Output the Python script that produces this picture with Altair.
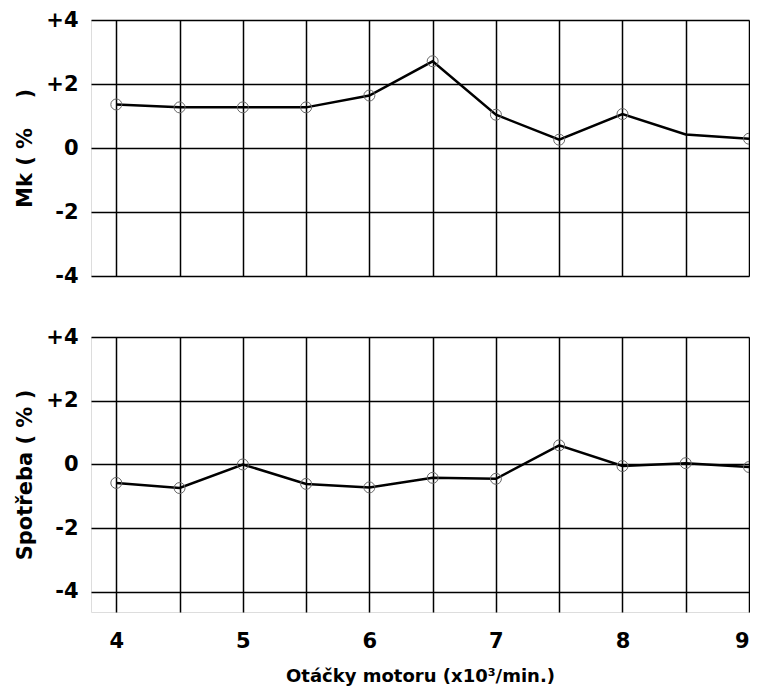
import altair as alt
import pandas as pd

# Data
rpm = [4, 4.5, 5, 5.5, 6, 6.5, 7, 7.5, 8, 8.5, 9]
mk = [1.36, 1.27, 1.27, 1.27, 1.64, 2.71, 1.04, 0.26, 1.06, 0.42, 0.29]
mk_marked = [True, True, True, True, True, True, True, True, True, False, True]
spotreba = [-0.58, -0.74, 0.0, -0.61, -0.72, -0.42, -0.45, 0.60, -0.05, 0.04, -0.08]

x_grid = [4, 4.5, 5, 5.5, 6, 6.5, 7, 7.5, 8, 8.5, 9]
y_ticks = [-4, -2, 0, 2, 4]

df = pd.DataFrame({"rpm": rpm, "mk": mk, "mk_marked": mk_marked, "spotreba": spotreba})

FONT = "DejaVu Sans"
W = 658

x_top = alt.X(
    "rpm:Q",
    scale=alt.Scale(domain=[3.8, 9], nice=False, zero=False),
    axis=alt.Axis(values=x_grid, labels=False, ticks=False, domain=False, title=None,
                  grid=True, gridColor="black", gridWidth=1.5, gridOpacity=1),
)
x_bot = alt.X(
    "rpm:Q",
    scale=alt.Scale(domain=[3.8, 9], nice=False, zero=False),
    axis=alt.Axis(values=x_grid, ticks=False, domain=False,
                  labelExpr="datum.value % 1 == 0 ? '' + datum.value : ''",
                  labelFont=FONT, labelFontWeight="bold", labelFontSize=21, labelColor="black",
                  labelPadding=18, labelFlush=True, labelOverlap=False,
                  title="Otáčky motoru (x10³/min.)", titleFont=FONT, titleFontWeight="bold",
                  titleFontSize=18, titleColor="black", titlePadding=16,
                  grid=True, gridColor="black", gridWidth=1.5, gridOpacity=1),
)


def y_axis(title):
    return alt.Axis(values=y_ticks, ticks=False, domain=False,
                    labelExpr="datum.value > 0 ? '+' + datum.value : '' + datum.value",
                    labelFont=FONT, labelFontWeight="bold", labelFontSize=21, labelColor="black",
                    labelPadding=13, labelOverlap=False,
                    title=title, titleFont=FONT, titleFontWeight="bold", titleFontSize=21,
                    titleColor="black", titlePadding=10,
                    grid=True, gridColor="black", gridWidth=1.5, gridOpacity=1)


base = alt.Chart(df)

top_line = base.mark_line(color="black", strokeWidth=2.5, clip=True).encode(
    x=x_top,
    y=alt.Y("mk:Q", scale=alt.Scale(domain=[-4, 4], nice=False),
            axis=y_axis("Mk (\u00a0%\u00a0\u00a0\u00a0\u00a0)")),
)
top_pts = base.transform_filter("datum.mk_marked").mark_point(
    shape="circle", filled=False, color="#666666", size=120, strokeWidth=1, opacity=1, clip=True
).encode(x="rpm:Q", y="mk:Q")
top = alt.layer(top_line, top_pts).properties(width=W, height=256)

bot_line = base.mark_line(color="black", strokeWidth=2.5, clip=True).encode(
    x=x_bot,
    y=alt.Y("spotreba:Q", scale=alt.Scale(domain=[-4.63, 4], nice=False),
            axis=y_axis("Spotřeba ( % )")),
)
bot_pts = base.mark_point(
    shape="circle", filled=False, color="#666666", size=120, strokeWidth=1, opacity=1, clip=True
).encode(x="rpm:Q", y="spotreba:Q")
bottom = alt.layer(bot_line, bot_pts).properties(width=W, height=275)

chart = alt.vconcat(top, bottom, spacing=61, bounds="flush").properties(
    padding={"left": 6, "top": 0, "right": 0, "bottom": 0}
).configure_view(stroke="black", strokeWidth=2).configure(background="white")

chart.save("out.html", embed_options={"renderer": "svg", "actions": False})
